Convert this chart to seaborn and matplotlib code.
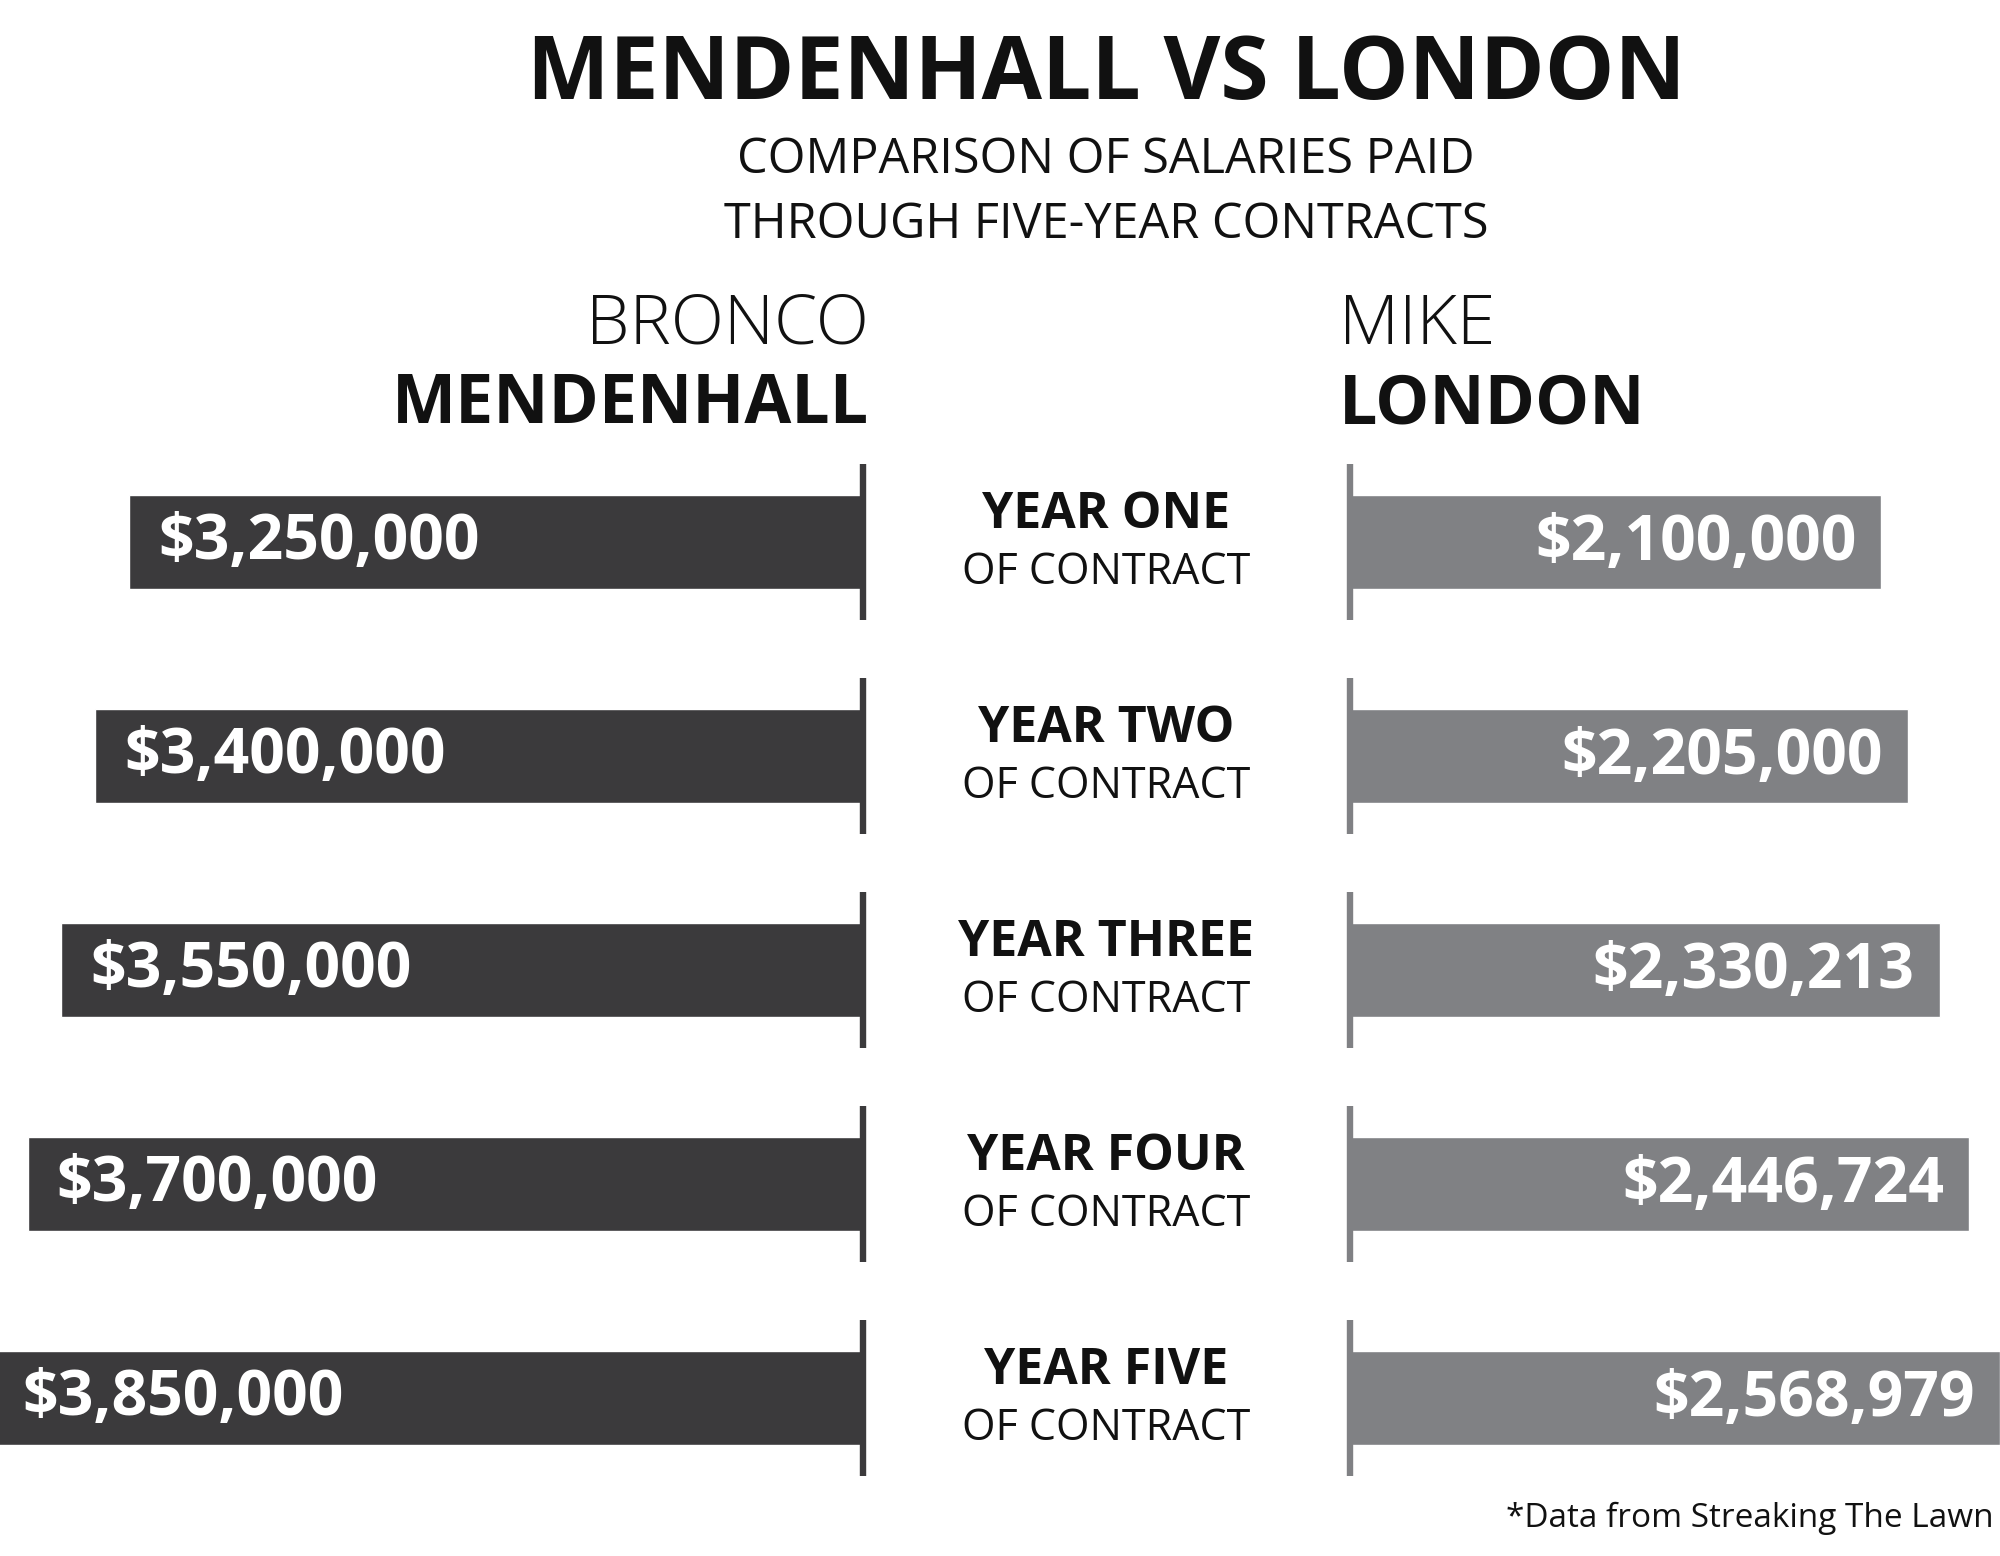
import matplotlib
matplotlib.use("Agg")
import matplotlib.pyplot as plt
import pandas as pd
import seaborn as sns

years = ["YEAR ONE", "YEAR TWO", "YEAR THREE", "YEAR FOUR", "YEAR FIVE"]
mendenhall = [3250000, 3400000, 3550000, 3700000, 3850000]
london = [2100000, 2205000, 2330213, 2446724, 2568979]

DARK = "#3b3a3c"
GREY = "#808184"
INK = "#111111"
FONT = "Open Sans"

sns.set_theme(style="white")
plt.rcParams["font.family"] = [FONT, "DejaVu Sans"]

W, H = 2000, 1556
fig = plt.figure(figsize=(W / 100, H / 100), dpi=100)
fig.patch.set_facecolor("white")

df = pd.DataFrame({"year": years, "mendenhall": mendenhall, "london": london})

ax_l = fig.add_axes([0, 0, 863 / W, 1])
ax_r = fig.add_axes([1350 / W, 0, 650 / W, 1])

sns.barplot(data=df, x="mendenhall", y="year", ax=ax_l, color=DARK,
            width=0.44, saturation=1)
sns.barplot(data=df, x="london", y="year", ax=ax_r, color=GREY,
            width=0.44, saturation=1)

ax_l.set_xlim(3.822e6, 0)
ax_r.set_xlim(0, 2.569e6)
for ax, col in [(ax_l, DARK), (ax_r, GREY)]:
    ax.set_ylim(4.738, -2.533)
    ax.set_axis_off()
    pos = list(range(len(years)))
    ax.vlines([0] * len(pos), [p - 0.365 for p in pos], [p + 0.365 for p in pos],
              color=col, lw=4.6, clip_on=False)

# value labels inside the bars
for i, v in enumerate(mendenhall):
    ax_l.annotate(f"${v:,}", (v, i), xytext=(21, -12), textcoords="offset points",
                  ha="left", va="baseline", color="white", fontsize=45,
                  fontweight="bold", annotation_clip=False)
for i, v in enumerate(london):
    ax_r.annotate(f"${v:,}", (v, i), xytext=(-18, -13), textcoords="offset points",
                  ha="right", va="baseline", color="white", fontsize=45,
                  fontweight="bold", annotation_clip=False)

# year labels in the middle
for i, y in enumerate(years):
    ax_l.annotate(y, (1106 / W, i), xycoords=("figure fraction", "data"),
                  xytext=(0, 10), textcoords="offset points", ha="center",
                  va="baseline", fontsize=36, fontweight="bold", color=INK,
                  annotation_clip=False)
    ax_l.annotate("OF CONTRACT", (1106 / W, i), xycoords=("figure fraction", "data"),
                  xytext=(0, -30.5), textcoords="offset points", ha="center",
                  va="baseline", fontsize=31, color=INK, annotation_clip=False)

# header
fig.text(1106 / W, 1 - 99 / H, "MENDENHALL VS LONDON", ha="center", va="baseline",
         fontsize=63, fontweight="bold", color=INK)
fig.text(1106 / W, 1 - 173 / H, "COMPARISON OF SALARIES PAID", ha="center",
         va="baseline", fontsize=35, color=INK)
fig.text(1106 / W, 1 - 238 / H, "THROUGH FIVE-YEAR CONTRACTS", ha="center",
         va="baseline", fontsize=35, color=INK)

fig.text(869 / W, 1 - 344 / H, "BRONCO", ha="right", va="baseline",
         fontsize=50, fontweight="light", color=INK)
fig.text(869 / W, 1 - 423 / H, "MENDENHALL", ha="right", va="baseline",
         fontsize=49, fontweight="bold", color=INK)
fig.text(1339 / W, 1 - 344 / H, "MIKE", ha="left", va="baseline",
         fontsize=50, fontweight="light", color=INK)
fig.text(1339 / W, 1 - 423 / H, "LONDON", ha="left", va="baseline",
         fontsize=49, fontweight="bold", color=INK)

fig.text(1994 / W, 1 - 1527 / H, "*Data from Streaking The Lawn", ha="right",
         va="baseline", fontsize=24, color=INK)

fig.savefig("out.png", dpi=100, facecolor="white")
